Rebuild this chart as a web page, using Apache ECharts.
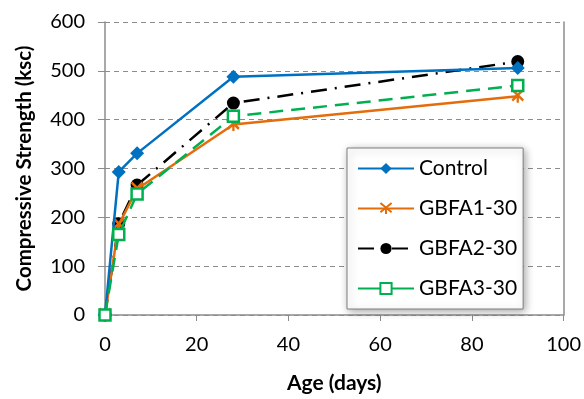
<!DOCTYPE html>
<html>
<head>
<meta charset="utf-8">
<script src="https://cdn.jsdelivr.net/npm/echarts@6/dist/echarts.min.js"></script>
<style>
  html, body { margin: 0; padding: 0; background: #fff; }
  #chart { width: 584px; height: 399px; }
</style>
</head>
<body>
<div id="chart"></div>
<script>
const age = [0, 3, 7, 28, 90]
const control = [0, 293, 331, 488, 506]
const gbfa1 = [0, 185, 258, 390, 448]
const gbfa2 = [0, 187, 266, 434, 519]
const gbfa3 = [0, 165, 248, 407, 470]

const font = 'Lato'
const pairs = ys => ys.map((y, i) => [age[i], y])

const chart = echarts.init(document.getElementById('chart'))

chart.setOption({
  animation: false,
  textStyle: { fontFamily: font },
  grid: { left: 105, right: 19, top: 22, bottom: 84 },
  legend: {
    orient: 'vertical',
    left: 347,
    top: 148,
    padding: [10, 6, 10, 10],
    itemGap: 19,
    itemWidth: 56,
    itemHeight: 14,
    backgroundColor: '#fff',
    borderColor: '#7f7f7f',
    borderWidth: 1,
    shadowBlur: 8,
    shadowColor: 'rgba(0,0,0,0.35)',
    shadowOffsetX: 2,
    shadowOffsetY: 2,
    textStyle: { fontFamily: font, fontSize: 21, color: '#000' },
    data: [
      { name: 'Control' },
      { name: 'GBFA1-30' },
      { name: 'GBFA2-30' },
      { name: 'GBFA3-30', lineStyle: { type: 'solid' } },
    ],
  },
  xAxis: {
    type: 'value',
    min: 0,
    max: 100,
    interval: 20,
    name: 'Age (days)',
    nameLocation: 'middle',
    nameGap: 58,
    nameTextStyle: { fontFamily: font, fontSize: 21, fontWeight: 'bold', color: '#000' },
    axisLine: { lineStyle: { color: '#8c8c8c', width: 1.5 } },
    axisTick: { show: true, length: 6, lineStyle: { color: '#8c8c8c' } },
    axisLabel: { fontSize: 20, color: '#000', margin: 20 },
    splitLine: { show: false },
  },
  yAxis: [{
    type: 'value',
    min: 0,
    max: 600,
    interval: 100,
    name: 'Compressive Strength (ksc)',
    nameLocation: 'middle',
    nameGap: 70,
    nameTextStyle: { fontFamily: font, fontSize: 20.5, fontWeight: 'bold', color: '#000' },
    axisLine: { show: true, lineStyle: { color: '#8c8c8c', width: 1.5 } },
    axisTick: { show: true, length: 7, lineStyle: { color: '#8c8c8c' } },
    axisLabel: { fontSize: 20, color: '#000', margin: 20 },
    splitLine: { show: true, lineStyle: { color: '#8c8c8c', type: [5, 4], width: 1.2 } },
  }, {
    type: 'value',
    min: 0,
    max: 600,
    interval: 100,
    position: 'right',
    axisLine: { show: true, lineStyle: { color: '#8c8c8c', width: 1.5 } },
    axisTick: { show: false },
    axisLabel: { show: false },
    splitLine: { show: false },
  }],
  series: [{
    name: 'Control',
    type: 'line',
    data: pairs(control),
    symbol: 'diamond',
    symbolSize: 14,
    lineStyle: { color: '#0070C0', width: 2.5 },
    itemStyle: { color: '#0070C0' },
    z: 4,
  }, {
    name: 'GBFA1-30',
    type: 'line',
    data: pairs(gbfa1),
    symbol: 'path://M0,0L10,10M10,0L0,10M5,5L5,12',
    symbolSize: [11, 13],
    lineStyle: { color: '#E46C0A', width: 2.5 },
    itemStyle: { color: '#E46C0A', borderColor: '#E46C0A', borderWidth: 2.5 },
    z: 3,
  }, {
    name: 'GBFA2-30',
    type: 'line',
    data: pairs(gbfa2),
    symbol: 'circle',
    symbolSize: 13,
    lineStyle: { color: '#000', width: 2.5, type: [16, 8, 2, 8] },
    itemStyle: { color: '#000' },
    z: 2,
  }, {
    name: 'GBFA3-30',
    type: 'line',
    data: pairs(gbfa3),
    symbol: 'rect',
    symbolSize: 11,
    lineStyle: { color: '#00B050', width: 2.5, type: [14, 8] },
    itemStyle: { color: '#fff', borderColor: '#00B050', borderWidth: 2.5 },
    z: 5,
  }],
})
</script>
</body>
</html>
